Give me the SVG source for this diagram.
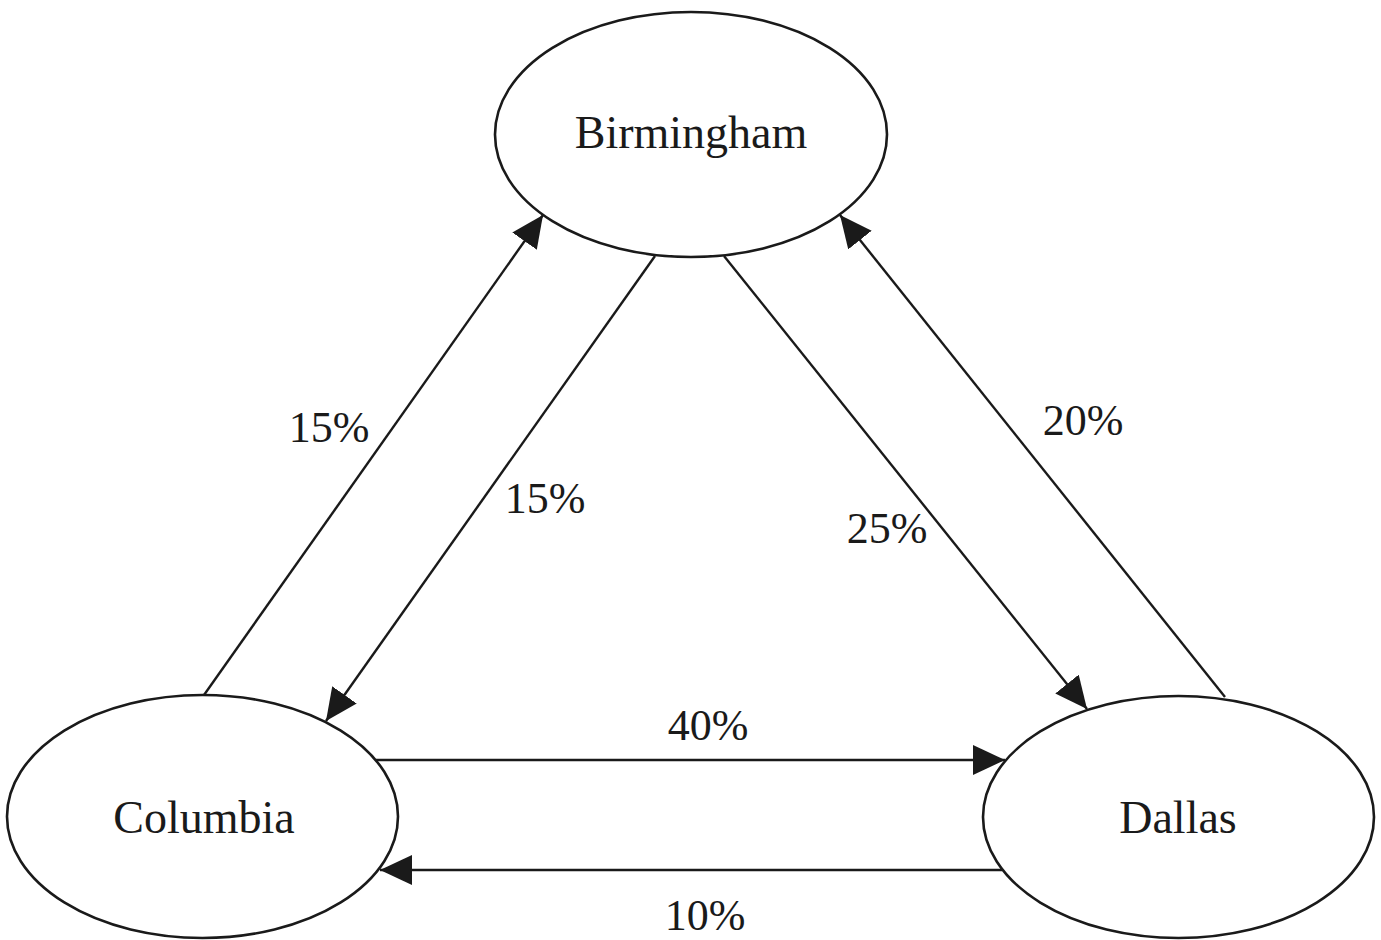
<svg xmlns="http://www.w3.org/2000/svg" width="1381" height="940" viewBox="0 0 1381 940">
  <defs>
    <marker id="head" markerUnits="userSpaceOnUse" markerWidth="34" markerHeight="32" refX="32" refY="15" orient="auto">
      <path d="M0,0 L32,15 L0,30 Z" fill="#1a1a1a"/>
    </marker>
    <style>
      .node ellipse { fill: #ffffff; stroke: #1a1a1a; stroke-width: 2.6; }
      .node text { font-family: "Liberation Serif", "Times New Roman", serif; font-size: 46px; fill: #1a1a1a; text-anchor: middle; }
      .edge { stroke: #1a1a1a; stroke-width: 2.4; fill: none; marker-end: url(#head); }
      .pct { font-family: "Liberation Serif", "Times New Roman", serif; font-size: 44px; fill: #1a1a1a; text-anchor: middle; }
    </style>
  </defs>
  <rect width="1381" height="940" fill="#ffffff"/>

  <g id="birmingham" class="node">
    <ellipse cx="691" cy="134.5" rx="196" ry="122.5"/>
    <text x="691" y="148">Birmingham</text>
  </g>
  <g id="columbia" class="node">
    <ellipse cx="202.5" cy="816.5" rx="195.5" ry="121.5"/>
    <text x="204" y="833">Columbia</text>
  </g>
  <g id="dallas" class="node">
    <ellipse cx="1178.5" cy="817" rx="195.5" ry="121"/>
    <text x="1178" y="833">Dallas</text>
  </g>

  <g id="connectors">
    <line class="edge" x1="204" y1="695" x2="543" y2="215"/>
    <line class="edge" x1="655" y1="256" x2="326" y2="721"/>
    <line class="edge" x1="724" y1="256" x2="1087" y2="709"/>
    <line class="edge" x1="1225" y1="697" x2="840" y2="215"/>
    <line class="edge" x1="376" y1="760" x2="1005" y2="760"/>
    <line class="edge" x1="1002" y1="870" x2="380" y2="870"/>
    <text class="pct" x="329" y="442">15%</text>
    <text class="pct" x="545" y="513">15%</text>
    <text class="pct" x="887" y="543">25%</text>
    <text class="pct" x="1083" y="435">20%</text>
    <text class="pct" x="708" y="740">40%</text>
    <text class="pct" x="705" y="930">10%</text>
  </g>
</svg>
